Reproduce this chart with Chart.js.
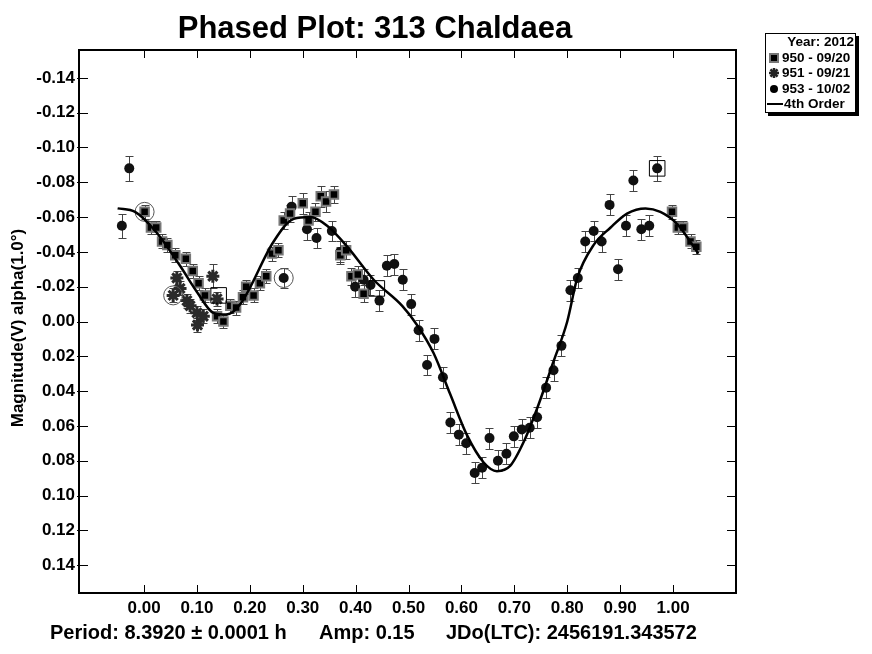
<!DOCTYPE html>
<html>
<head>
<meta charset="utf-8">
<title>Phased Plot: 313 Chaldaea</title>
<script src="https://cdn.jsdelivr.net/npm/chart.js@4.4.1/dist/chart.umd.min.js"></script>
<style>
  html, body { margin: 0; padding: 0; background: #fff; }
  #wrap { width: 872px; height: 654px; }
</style>
</head>
<body>
<div id="wrap"><canvas id="phaseChart" width="872" height="654"></canvas></div>
<script>
// tick labels
const xTicks = [0.00, 0.10, 0.20, 0.30, 0.40, 0.50, 0.60, 0.70, 0.80, 0.90, 1.00];
const yTicks = [-0.14, -0.12, -0.10, -0.08, -0.06, -0.04, -0.02, 0.00, 0.02, 0.04, 0.06, 0.08, 0.10, 0.12, 0.14];

// session 950 - 09/20 (squares)
const phase950 = [0.001, 0.013, 0.023, 0.034, 0.044, 0.059, 0.079, 0.092, 0.103, 0.115, 0.138, 0.150, 0.163, 0.174, 0.187,
  0.193, 0.207, 0.219, 0.231, 0.242, 0.254, 0.264, 0.276, 0.300, 0.311, 0.324, 0.334, 0.344, 0.359, 0.371, 0.382,
  0.392, 0.404, 0.415, 0.998, 1.009, 1.019, 1.033, 1.044];
const mag950 = [-0.063, -0.054, -0.054, -0.046, -0.044, -0.038, -0.036, -0.029, -0.022, -0.015, -0.003, 0.000, -0.009, -0.008, -0.014,
  -0.020, -0.015, -0.022, -0.026, -0.039, -0.041, -0.058, -0.062, -0.068, -0.058, -0.063, -0.072, -0.069, -0.073, -0.038, -0.041,
  -0.026, -0.027, -0.016, -0.063, -0.054, -0.054, -0.046, -0.043];
const err950 = [0.004, 0.004, 0.004, 0.004, 0.004, 0.004, 0.004, 0.004, 0.004, 0.004, 0.004, 0.004, 0.004, 0.004, 0.004,
  0.004, 0.004, 0.004, 0.004, 0.004, 0.004, 0.005, 0.005, 0.006, 0.005, 0.005, 0.006, 0.006, 0.005, 0.005, 0.005,
  0.005, 0.005, 0.005, 0.004, 0.004, 0.004, 0.004, 0.004];

// session 951 - 09/21 (asterisks)
const phase951 = [0.055, 0.062, 0.068, 0.081, 0.087, 0.100, 0.101, 0.112, 0.130, 0.138];
const mag951 = [-0.015, -0.025, -0.019, -0.012, -0.009, -0.005, 0.002, -0.003, -0.026, -0.013];
const err951 = [0.004, 0.004, 0.004, 0.004, 0.004, 0.004, 0.004, 0.004, 0.007, 0.004];

// session 953 - 10/02 (dots)
const phase953 = [-0.042, -0.028, 0.264, 0.279, 0.308, 0.326, 0.355, 0.371, 0.399, 0.415, 0.428, 0.445, 0.459, 0.473, 0.489,
  0.505, 0.519, 0.535, 0.549, 0.565, 0.579, 0.595, 0.609, 0.625, 0.639, 0.653, 0.669, 0.685, 0.699, 0.714, 0.729,
  0.743, 0.760, 0.774, 0.789, 0.806, 0.820, 0.834, 0.850, 0.865, 0.880, 0.896, 0.911, 0.925, 0.940, 0.955, 0.970];
const mag953 = [-0.055, -0.088, -0.025, -0.066, -0.053, -0.048, -0.052, -0.040, -0.020, -0.024, -0.021, -0.012, -0.032, -0.033, -0.024,
  -0.010, 0.005, 0.025, 0.010, 0.032, 0.058, 0.065, 0.070, 0.087, 0.084, 0.067, 0.080, 0.076, 0.066, 0.062, 0.061,
  0.055, 0.038, 0.028, 0.014, -0.018, -0.025, -0.046, -0.052, -0.046, -0.067, -0.030, -0.055, -0.081, -0.053, -0.055, -0.088];
const err953 = [0.007, 0.007, 0.006, 0.006, 0.006, 0.006, 0.006, 0.006, 0.006, 0.006, 0.006, 0.006, 0.006, 0.006, 0.006,
  0.006, 0.006, 0.006, 0.006, 0.006, 0.006, 0.006, 0.006, 0.006, 0.006, 0.006, 0.006, 0.006, 0.006, 0.006, 0.006,
  0.006, 0.006, 0.006, 0.006, 0.006, 0.006, 0.006, 0.006, 0.006, 0.006, 0.006, 0.006, 0.006, 0.006, 0.006, 0.007];

// marked points
const ringPhase = [0.001, 0.055, 0.264];
const ringMag = [-0.063, -0.015, -0.025];
const boxPhase = [0.141, 0.440, 0.970];
const boxMag = [-0.015, -0.019, -0.088];

// 4th order fit
const fitPhase = [-0.050, -0.017, 0.024, 0.068, 0.100, 0.131, 0.156, 0.182, 0.245, 0.283, 0.314, 0.346, 0.384, 0.434,
  0.488, 0.516, 0.547, 0.579, 0.610, 0.642, 0.667, 0.692, 0.718, 0.743, 0.774, 0.800, 0.819, 0.850, 0.882,
  0.913, 0.948, 0.976, 1.008, 1.048];
const fitMag = [-0.065, -0.063, -0.051, -0.032, -0.017, -0.005, -0.004, -0.010, -0.046, -0.059, -0.060, -0.055, -0.043, -0.024,
  -0.009, 0.002, 0.018, 0.042, 0.065, 0.081, 0.086, 0.083, 0.069, 0.050, 0.023, 0.000, -0.025, -0.044, -0.054,
  -0.062, -0.065, -0.063, -0.056, -0.039];

const pts = (xs, ys) => xs.map((x, i) => ({ x: x, y: ys[i] }));
const FONT = '"Liberation Sans", Arial, sans-serif';

const errorBars = {
  id: 'errorBars',
  beforeDatasetsDraw(chart) {
    const ctx = chart.ctx, sx = chart.scales.x, sy = chart.scales.y;
    ctx.save();
    ctx.strokeStyle = '#444';
    ctx.lineWidth = 1;
    chart.data.datasets.forEach(ds => {
      if (!ds.errors) return;
      ds.data.forEach((p, j) => {
        const px = Math.round(sx.getPixelForValue(p.x)) + 0.5;
        const y1 = Math.round(sy.getPixelForValue(p.y - ds.errors[j])) + 0.5;
        const y2 = Math.round(sy.getPixelForValue(p.y + ds.errors[j])) + 0.5;
        ctx.beginPath();
        ctx.moveTo(px, y1); ctx.lineTo(px, y2);
        ctx.moveTo(px - 4, y1); ctx.lineTo(px + 4, y1);
        ctx.moveTo(px - 4, y2); ctx.lineTo(px + 4, y2);
        ctx.stroke();
      });
    });
    ctx.restore();
  }
};

const frame = {
  id: 'frame',
  afterDraw(chart) {
    const ctx = chart.ctx, a = chart.chartArea, sx = chart.scales.x, sy = chart.scales.y;
    ctx.save();
    ctx.strokeStyle = '#000';
    ctx.lineWidth = 1;
    ctx.beginPath();
    xTicks.forEach(v => {
      const px = Math.round(sx.getPixelForValue(v)) + 0.5;
      ctx.moveTo(px, a.bottom); ctx.lineTo(px, a.bottom - 8);
      ctx.moveTo(px, a.top); ctx.lineTo(px, a.top + 8);
    });
    yTicks.forEach(v => {
      const py = Math.round(sy.getPixelForValue(v)) + 0.5;
      ctx.moveTo(a.left - 2, py); ctx.lineTo(a.left + 9, py);
      ctx.moveTo(a.right - 9, py); ctx.lineTo(a.right, py);
    });
    ctx.stroke();
    ctx.lineWidth = 2;
    ctx.strokeRect(a.left, a.top, a.right - a.left, a.bottom - a.top);

    // title, axis title and footer
    ctx.fillStyle = '#000';
    ctx.textBaseline = 'middle';
    ctx.textAlign = 'center';
    ctx.font = 'bold 31px ' + FONT;
    ctx.fillText('Phased Plot: 313 Chaldaea', 375, 29);
    ctx.save();
    ctx.translate(18, 328);
    ctx.rotate(-Math.PI / 2);
    ctx.font = 'bold 17px ' + FONT;
    ctx.fillText('Magnitude(V) alpha(1.0\u00b0)', 0, 0);
    ctx.restore();
    ctx.textAlign = 'left';
    ctx.font = 'bold 20px ' + FONT;
    ctx.fillText('Period: 8.3920 \u00b1 0.0001 h', 50, 633);
    ctx.fillText('Amp: 0.15', 319, 633);
    ctx.fillText('JDo(LTC): 2456191.343572', 446, 633);

    // legend
    const lx = 765, ly = 33, lw = 91, lh = 80;
    ctx.fillRect(lx + 3, ly + 3, lw, lh);
    ctx.fillStyle = '#fff';
    ctx.fillRect(lx, ly, lw, lh);
    ctx.lineWidth = 1;
    ctx.strokeRect(lx + 0.5, ly + 0.5, lw - 1, lh - 1);
    ctx.fillStyle = '#000';
    ctx.font = 'bold 13.5px ' + FONT;
    ctx.textAlign = 'right';
    ctx.fillText('Year: 2012', 854, 42);
    ctx.textAlign = 'left';
    const rows = [58, 73, 89, 104];
    const mx = 774, tx = 782;
    // square
    ctx.fillStyle = '#777';
    ctx.fillRect(mx - 5, rows[0] - 5, 10, 10);
    ctx.fillStyle = '#000';
    ctx.fillRect(mx - 3, rows[0] - 3, 6, 6);
    // asterisk
    ctx.strokeStyle = '#222';
    ctx.lineWidth = 2.5;
    ctx.beginPath();
    for (let k = 0; k < 4; k++) {
      const ang = k * Math.PI / 4;
      ctx.moveTo(mx - 5 * Math.cos(ang), rows[1] - 5 * Math.sin(ang));
      ctx.lineTo(mx + 5 * Math.cos(ang), rows[1] + 5 * Math.sin(ang));
    }
    ctx.stroke();
    // dot
    ctx.beginPath();
    ctx.arc(mx, rows[2], 4, 0, Math.PI * 2);
    ctx.fill();
    // line
    ctx.lineWidth = 2;
    ctx.strokeStyle = '#000';
    ctx.beginPath();
    ctx.moveTo(767, rows[3]); ctx.lineTo(783, rows[3]);
    ctx.stroke();
    ctx.fillText('950 - 09/20', tx, rows[0]);
    ctx.fillText('951 - 09/21', tx, rows[1]);
    ctx.fillText('953 - 10/02', tx, rows[2]);
    ctx.fillText('4th Order', 784, rows[3]);
    ctx.restore();
  }
};

new Chart(document.getElementById('phaseChart').getContext('2d'), {
  type: 'scatter',
  data: {
    datasets: [
      {
        label: '950 - 09/20', data: pts(phase950, mag950), errors: err950,
        pointStyle: 'rect', pointRadius: 6, backgroundColor: '#000', borderColor: '#777', borderWidth: 2, order: 3
      },
      {
        label: '951 - 09/21', data: pts(phase951, mag951), errors: err951,
        pointStyle: 'star', pointRadius: 6.5, borderColor: '#2a2a2a', backgroundColor: '#2a2a2a', borderWidth: 3, order: 2
      },
      {
        label: '953 - 10/02', data: pts(phase953, mag953), errors: err953,
        pointStyle: 'circle', pointRadius: 5, backgroundColor: '#111', borderColor: '#111', borderWidth: 0, order: 4
      },
      {
        label: 'rings', data: pts(ringPhase, ringMag),
        pointStyle: 'circle', pointRadius: 9.5, backgroundColor: 'rgba(0,0,0,0)', borderColor: '#555', borderWidth: 1, order: 1
      },
      {
        label: 'boxes', data: pts(boxPhase, boxMag),
        pointStyle: 'rect', pointRadius: 11, backgroundColor: 'rgba(0,0,0,0)', borderColor: '#000', borderWidth: 1, order: 1
      },
      {
        label: '4th Order', type: 'line', data: pts(fitPhase, fitMag), showLine: true,
        borderColor: '#000', borderWidth: 2.5, pointRadius: 0, fill: false, cubicInterpolationMode: 'monotone', order: 0
      }
    ]
  },
  options: {
    responsive: false,
    animation: false,
    devicePixelRatio: 1,
    layout: { padding: { left: 0, right: 136, top: 50, bottom: 0 } },
    plugins: { legend: { display: false }, tooltip: { enabled: false } },
    scales: {
      x: {
        type: 'linear', min: -0.123, max: 1.119,
        afterBuildTicks: s => { s.ticks = xTicks.map(v => ({ value: v })); },
        afterFit: s => { s.height = 61; },
        grid: { display: false, drawTicks: false },
        border: { display: false },
        ticks: { color: '#000', padding: 5, maxRotation: 0, font: { family: FONT, size: 17, weight: 'bold' },
          callback: v => v.toFixed(2) }
      },
      y: {
        type: 'linear', min: -0.156, max: 0.156, reverse: true,
        afterBuildTicks: s => { s.ticks = yTicks.map(v => ({ value: v })); },
        afterFit: s => { s.width = 79; },
        grid: { display: false, drawTicks: false },
        border: { display: false },
        ticks: { color: '#000', padding: 4, font: { family: FONT, size: 17, weight: 'bold' },
          callback: v => v.toFixed(2) }
      }
    }
  },
  plugins: [errorBars, frame]
});
</script>
</body>
</html>
